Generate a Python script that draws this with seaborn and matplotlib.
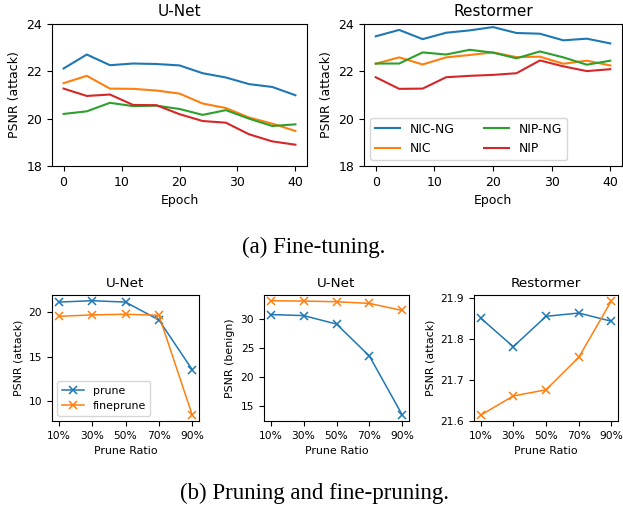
import numpy as np
import pandas as pd
import matplotlib
matplotlib.use("Agg")
import matplotlib.pyplot as plt
import seaborn as sns

# ---- data ----
epochs = [0, 4, 8, 12, 16, 20, 24, 28, 32, 36, 40]
series_names = ["NIC-NG", "NIC", "NIP-NG", "NIP"]

unet_nicng = [22.12, 22.71, 22.26, 22.33, 22.31, 22.25, 21.92, 21.74, 21.46, 21.34, 20.99]
unet_nic = [21.50, 21.81, 21.27, 21.26, 21.19, 21.06, 20.64, 20.45, 20.05, 19.79, 19.48]
unet_nipng = [20.20, 20.31, 20.67, 20.53, 20.55, 20.41, 20.16, 20.36, 20.00, 19.69, 19.76]
unet_nip = [21.27, 20.96, 21.02, 20.58, 20.57, 20.19, 19.90, 19.83, 19.34, 19.04, 18.90]

rest_nicng = [23.48, 23.75, 23.36, 23.63, 23.73, 23.87, 23.62, 23.59, 23.31, 23.38, 23.18]
rest_nic = [22.32, 22.59, 22.29, 22.59, 22.69, 22.80, 22.60, 22.62, 22.32, 22.45, 22.25]
rest_nipng = [22.33, 22.33, 22.80, 22.71, 22.91, 22.79, 22.55, 22.84, 22.59, 22.28, 22.45]
rest_nip = [21.75, 21.26, 21.27, 21.75, 21.81, 21.85, 21.92, 22.46, 22.21, 22.01, 22.09]

prune_ratios = ["10%", "30%", "50%", "70%", "90%"]
unet_attack_prune = [21.14, 21.29, 21.14, 19.13, 13.54]
unet_attack_fineprune = [19.54, 19.70, 19.77, 19.66, 8.44]
unet_benign_prune = [30.70, 30.52, 29.07, 23.55, 13.37]
unet_benign_fineprune = [33.08, 33.02, 32.91, 32.62, 31.40]
rest_attack_prune = [21.851, 21.781, 21.855, 21.863, 21.843]
rest_attack_fineprune = [21.614, 21.661, 21.676, 21.755, 21.893]

colors = ["#1f77b4", "#ff7f0e", "#2ca02c", "#d62728"]

fig = plt.figure(figsize=(6.23, 5.12), dpi=100)
W, H = 623, 512

def add_ax(x0, y0, x1, y1):
    return fig.add_axes([x0 / W, 1 - y1 / H, (x1 - x0) / W, (y1 - y0) / H])

TOP_TICK = 9
TOP_LABEL = 9
TOP_TITLE = 11

def top_panel(ax, data, title, legend=False):
    df = pd.DataFrame({
        "Epoch": epochs * 4,
        "PSNR": sum(data, []),
        "Model": sum([[n] * len(epochs) for n in series_names], []),
    })
    sns.lineplot(data=df, x="Epoch", y="PSNR", hue="Model", palette=colors,
                 linewidth=1.5, ax=ax, legend=legend)
    ax.set_ylim(18, 24)
    ax.set_yticks([18, 20, 22, 24])
    ax.set_xticks([0, 10, 20, 30, 40])
    ax.set_title(title, fontsize=TOP_TITLE)
    ax.set_xlabel("Epoch", fontsize=TOP_LABEL)
    ax.set_ylabel("PSNR (attack)", fontsize=TOP_LABEL)
    ax.tick_params(labelsize=TOP_TICK)
    if legend:
        ax.legend(loc="lower left", ncol=2, fontsize=8.9, title=None,
                  handlelength=2.0, columnspacing=2.4)

ax1 = add_ax(52, 24, 307, 166)
top_panel(ax1, [unet_nicng, unet_nic, unet_nipng, unet_nip], "U-Net")
ax2 = add_ax(364, 24, 622, 166)
top_panel(ax2, [rest_nicng, rest_nic, rest_nipng, rest_nip], "Restormer", legend=True)

BOT_TICK = 7.7
BOT_LABEL = 7.9
BOT_TITLE = 9.7

def bottom_panel(ax, prune, fineprune, title, ylabel, yticks, legend=False):
    xs = np.arange(len(prune_ratios))
    for vals, lab, col in ((prune, "prune", colors[0]), (fineprune, "fineprune", colors[1])):
        sns.lineplot(x=xs, y=vals, color=col, marker="x", markersize=6,
                     markeredgewidth=1.1, markeredgecolor=col, markerfacecolor=col,
                     linewidth=1.1, label=lab, ax=ax)
    ax.set_xticks(xs)
    ax.set_xticklabels(prune_ratios)
    ax.set_yticks(yticks)
    ax.set_title(title, fontsize=BOT_TITLE)
    ax.set_xlabel("Prune Ratio", fontsize=BOT_LABEL)
    ax.set_ylabel(ylabel, fontsize=BOT_LABEL)
    ax.tick_params(labelsize=BOT_TICK)
    if legend:
        ax.legend(loc="lower left", fontsize=7.9)
    else:
        ax.get_legend().remove()

b1 = add_ax(52, 295, 199, 421)
bottom_panel(b1, unet_attack_prune, unet_attack_fineprune, "U-Net", "PSNR (attack)",
             [10, 15, 20], legend=True)
b2 = add_ax(264, 295, 409, 421)
bottom_panel(b2, unet_benign_prune, unet_benign_fineprune, "U-Net", "PSNR (benign)",
             [15, 20, 25, 30])
b3 = add_ax(474, 295, 618, 421)
bottom_panel(b3, rest_attack_prune, rest_attack_fineprune, "Restormer", "PSNR (attack)",
             [21.6, 21.7, 21.8, 21.9])

fig.text(314 / W, 1 - 247 / H, "(a) Fine-tuning.", ha="center", va="center",
         fontsize=16.5, family="Liberation Serif")
fig.text(315 / W, 1 - 493 / H, "(b) Pruning and fine-pruning.", ha="center", va="center",
         fontsize=16.5, family="Liberation Serif")

fig.savefig("out.png", dpi=100)
